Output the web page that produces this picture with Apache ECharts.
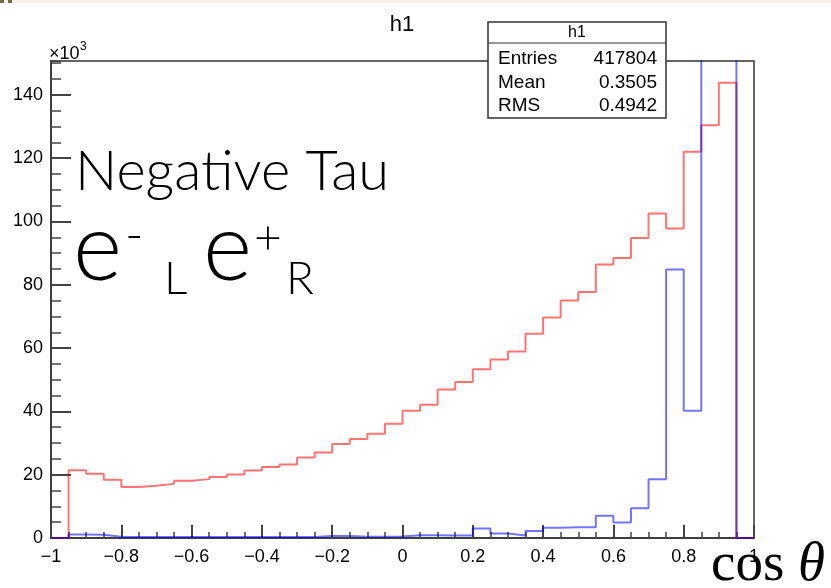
<!DOCTYPE html>
<html>
<head>
<meta charset="utf-8">
<script src="https://cdn.jsdelivr.net/npm/echarts@6/dist/echarts.min.js"></script>
<style>
html,body{margin:0;padding:0;background:#fff;}
#c{width:831px;height:588px;}
</style>
</head>
<body>
<div id="c"></div>
<script>
// bin left edges of cos(theta)
const binEdges = [-1, -0.95, -0.9, -0.85, -0.8, -0.75, -0.7, -0.65, -0.6, -0.55,
  -0.5, -0.45, -0.4, -0.35, -0.3, -0.25, -0.2, -0.15, -0.1, -0.05,
  0, 0.05, 0.1, 0.15, 0.2, 0.25, 0.3, 0.35, 0.4, 0.45,
  0.5, 0.55, 0.6, 0.65, 0.7, 0.75, 0.8, 0.85, 0.9, 0.95];
const upperEdge = 1;
// red histogram (x10^3)
const redValues = [0, 21.4, 20.3, 18.4, 16.1, 16.5, 17.1, 18.1, 18.6, 19.3,
  20.1, 21.3, 22.4, 23.2, 25.4, 27.0, 29.7, 31.3, 32.9, 36.1,
  40.2, 42.1, 46.9, 49.3, 53.3, 56.4, 58.9, 64.5, 69.7, 75.0,
  77.7, 86.4, 88.5, 94.8, 102.5, 97.8, 122.0, 130.4, 143.8, 0];
// blue histogram (x10^3), bins 0.85-0.95 exceed the frame
const blueValues = [0, 1.1, 1.0, 0.4, 0.3, 0.3, 0.3, 0.3, 0.3, 0.3,
  0.3, 0.3, 0.3, 0.3, 0.3, 0.6, 0.6, 0.4, 0.4, 0.5,
  0.9, 0.9, 0.8, 0.8, 3.0, 1.4, 0.8, 2.2, 3.2, 3.4,
  3.4, 7.0, 4.9, 9.4, 18.6, 84.8, 40.2, 200, 200, 0];
const yMax = 150.7;
const statsLabels = ['Entries', 'Mean', 'RMS'];
const statsValues = ['417804', '0.3505', '0.4942'];

function histData(vals) {
  const d = binEdges.map((e, i) => [e, vals[i]]);
  d.push([upperEdge, vals[vals.length - 1]]);
  return d;
}

const chart = echarts.init(document.getElementById('c'), null, {renderer: 'canvas'});
const fmtX = v => {
  const s = String(Math.round(v * 100) / 100);
  return s.replace('-', '\u2212');
};
const axisCol = '#333';
const tickCol = '#444';
const sans = 'Liberation Sans, Arial, Helvetica, sans-serif';
const gothic = 'Lato, Noto Sans, DejaVu Sans, sans-serif';
const serif = 'Liberation Serif, DejaVu Serif, serif';

const statsBox = {x: 488, y: 22, w: 178, h: 96};
const rowY = [59, 83, 106];
const statsGraphics = [{
  type: 'rect', z: 100,
  shape: {x: statsBox.x, y: statsBox.y, width: statsBox.w, height: statsBox.h},
  style: {fill: '#fff', stroke: '#333', lineWidth: 1.5}
}, {
  type: 'line', z: 101,
  shape: {x1: statsBox.x, y1: 43, x2: statsBox.x + statsBox.w, y2: 43},
  style: {stroke: '#333', lineWidth: 1.2}
}, {
  type: 'text', z: 101, x: statsBox.x + statsBox.w / 2, y: 33,
  style: {text: 'h1', fontSize: 16, fontFamily: sans, fill: '#000', align: 'center', verticalAlign: 'middle'}
}];
statsLabels.forEach((l, i) => {
  statsGraphics.push({type: 'text', z: 101, x: 498, y: rowY[i],
    style: {text: l, fontSize: 19, fontFamily: sans, fill: '#000', align: 'left', verticalAlign: 'middle'}});
  statsGraphics.push({type: 'text', z: 101, x: 657, y: rowY[i],
    style: {text: statsValues[i], fontSize: 19, fontFamily: sans, fill: '#000', align: 'right', verticalAlign: 'middle'}});
});

const option = {
  animation: false,
  backgroundColor: '#fff',
  grid: {left: 51, right: 77, top: 61, bottom: 50, show: true, borderColor: axisCol, borderWidth: 1.5, backgroundColor: 'transparent'},
  xAxis: [{
    type: 'value', min: -1, max: 1, interval: 0.2, position: 'bottom',
    axisLine: {onZero: false, lineStyle: {color: axisCol, width: 1.5}},
    axisTick: {show: true, inside: true, length: 13, lineStyle: {color: tickCol, width: 2}},
    splitLine: {show: false},
    axisLabel: {formatter: fmtX, fontFamily: sans, fontSize: 18, color: '#000', margin: 10}
  }, {
    type: 'value', min: -1, max: 1, interval: 0.05, position: 'bottom', offset: 0,
    axisLine: {show: false, onZero: false},
    axisTick: {show: true, inside: true, length: 6, lineStyle: {color: tickCol, width: 1.5}},
    splitLine: {show: false},
    axisLabel: {show: false}
  }],
  yAxis: [{
    type: 'value', min: 0, max: yMax, interval: 20,
    axisLine: {show: true, onZero: false, lineStyle: {color: axisCol, width: 1.5}},
    axisTick: {show: true, inside: true, length: 20, lineStyle: {color: tickCol, width: 2}},
    splitLine: {show: false},
    axisLabel: {showMaxLabel: false, fontFamily: sans, fontSize: 18, color: '#000', margin: 8}
  }, {
    type: 'value', min: 0, max: yMax, interval: 5, position: 'left', offset: 0,
    axisLine: {show: false, onZero: false},
    axisTick: {show: true, inside: true, length: 10, lineStyle: {color: tickCol, width: 1.5}},
    splitLine: {show: false},
    axisLabel: {show: false}
  }],
  series: [{
    type: 'line', step: 'end', data: histData(redValues), showSymbol: false, clip: true,
    xAxisIndex: 0, yAxisIndex: 0,
    lineStyle: {color: 'rgba(255,0,0,0.55)', width: 2}, z: 3
  }, {
    type: 'line', step: 'end', data: histData(blueValues), showSymbol: false, clip: true,
    xAxisIndex: 0, yAxisIndex: 0,
    lineStyle: {color: 'rgba(0,0,255,0.55)', width: 2}, z: 4
  }],
  graphic: [
    {type: 'rect', shape: {x: 0, y: 0, width: 831, height: 3}, style: {fill: '#f1f1e6'}, z: 50},
    {type: 'rect', shape: {x: 0, y: 0, width: 4, height: 3}, style: {fill: '#6f6a4e'}, z: 51},
    {type: 'rect', shape: {x: 8, y: 0, width: 4, height: 3}, style: {fill: '#6f6a4e'}, z: 51},
    {type: 'text', x: 402, y: 25, style: {text: 'h1', fontSize: 22, fontFamily: sans, fill: '#000', align: 'center', verticalAlign: 'middle'}},
    {type: 'text', x: 49, y: 54, style: {text: '\u00d710', fontSize: 18, fontFamily: sans, fill: '#000', align: 'left', verticalAlign: 'middle'}},
    {type: 'text', x: 80, y: 47, style: {text: '3', fontSize: 12, fontFamily: sans, fill: '#000', align: 'left', verticalAlign: 'middle'}},
    {type: 'text', x: 75, y: 172, style: {text: 'Negative Tau', fontSize: 56, fontWeight: 300, fontFamily: gothic, fill: '#000', align: 'left', verticalAlign: 'middle'}},
    {type: 'text', x: 73, y: 250, style: {text: 'e', fontSize: 94, fontWeight: 300, fontFamily: gothic, fill: '#000', align: 'left', verticalAlign: 'middle'}},
    {type: 'text', x: 125, y: 236, style: {text: '-', fontSize: 50, fontWeight: 300, fontFamily: gothic, fill: '#000', align: 'left', verticalAlign: 'middle'}},
    {type: 'text', x: 164, y: 279, style: {text: 'L', fontSize: 46, fontWeight: 300, fontFamily: gothic, fill: '#000', align: 'left', verticalAlign: 'middle'}},
    {type: 'text', x: 203, y: 250, style: {text: 'e', fontSize: 94, fontWeight: 300, fontFamily: gothic, fill: '#000', align: 'left', verticalAlign: 'middle'}},
    {type: 'text', x: 254, y: 239, style: {text: '+', fontSize: 48, fontWeight: 300, fontFamily: gothic, fill: '#000', align: 'left', verticalAlign: 'middle'}},
    {type: 'text', x: 286, y: 279, style: {text: 'R', fontSize: 46, fontWeight: 300, fontFamily: gothic, fill: '#000', align: 'left', verticalAlign: 'middle'}},
    {type: 'text', x: 711, y: 566, style: {text: 'cos {t|\u03b8}', fontSize: 55, fontFamily: serif, fill: '#000', align: 'left', verticalAlign: 'middle',
      rich: {t: {fontSize: 55, fontStyle: 'italic', fontFamily: serif}}}}
  ].concat(statsGraphics)
};
chart.setOption(option);
</script>
</body>
</html>
